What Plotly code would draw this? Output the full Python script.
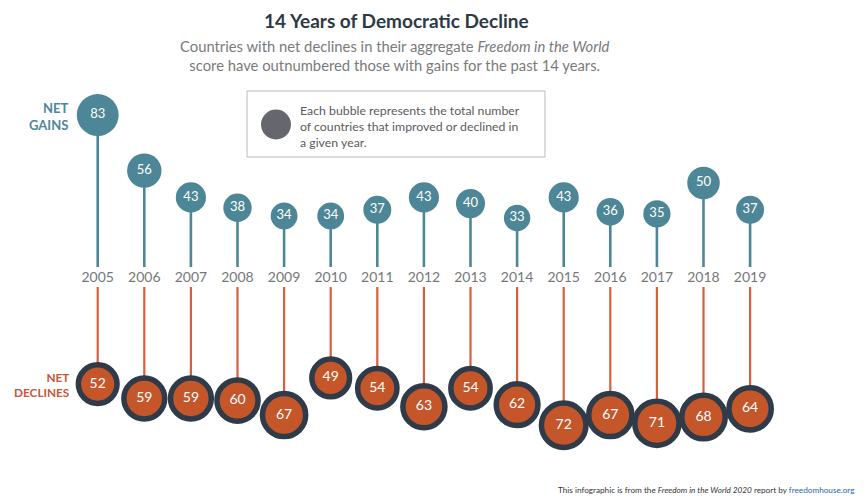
import numpy as np
import plotly.graph_objects as go

years = list(range(2005, 2020))
net_gains = [83, 56, 43, 38, 34, 34, 37, 43, 40, 33, 43, 36, 35, 50, 37]
net_declines = [52, 59, 59, 60, 67, 49, 54, 63, 54, 62, 72, 67, 71, 68, 64]

OFF = 8  # page body margin offset
W, H = 868 - OFF, 496 - OFF
TEAL = "#4d8797"
ORANGE = "#c4562a"
STEM_OR = "#d4603f"
RING = "#2f3b48"
GRAY = "#76777a"
FONT = "Lato"

# helpers: reference-window pixels -> paper coordinates
def px(x):
    return (x - OFF) / W
def py(y):
    return 1 - (y - OFF) / H

K = 2.06  # px per unit
x0_px, dx_px = 97.7 - OFF, 46.6
xr = [2005 - x0_px / dx_px, 2005 + (W - x0_px) / dx_px]
g0 = 286.0 - OFF  # pixel of gains zero (figure coords)
d0 = 277.0 - OFF  # pixel of declines zero
yr1 = [-(H - g0) / K, g0 / K]
yr2 = [-(H - d0) / K, d0 / K]

gain_base = (g0 - (267 - OFF)) / K
decl_base = -((287 - OFF) - d0) / K
label_y = (g0 - (278 - OFF)) / K

fig = go.Figure()

# stems
sx, sy = [], []
for yv, v in zip(years, net_gains):
    sx += [yv, yv, None]
    sy += [gain_base, v, None]
fig.add_trace(go.Scatter(x=sx, y=sy, mode="lines", line=dict(color=TEAL, width=2.6),
                         hoverinfo="skip", showlegend=False, yaxis="y"))
dx, dy = [], []
for yv, v in zip(years, net_declines):
    dx += [yv, yv, None]
    dy += [decl_base, -v, None]
fig.add_trace(go.Scatter(x=dx, y=dy, mode="lines", line=dict(color=STEM_OR, width=2.2),
                         hoverinfo="skip", showlegend=False, yaxis="y2"))

# bubbles
gsize = [4.6 * np.sqrt(v) for v in net_gains]
fig.add_trace(go.Scatter(
    x=years, y=net_gains, mode="markers+text", yaxis="y",
    marker=dict(size=gsize, sizemode="diameter", color=TEAL, line=dict(width=0), opacity=1),
    text=[str(v) for v in net_gains], textposition="middle center",
    textfont=dict(family=FONT, size=13, color="white"), showlegend=False))

ring = 5.5
dsize = [4.6 * np.sqrt(v) + ring for v in net_declines]
fig.add_trace(go.Scatter(
    x=years, y=[-v for v in net_declines], mode="markers+text", yaxis="y2",
    marker=dict(size=dsize, sizemode="diameter", color=ORANGE, line=dict(width=ring, color=RING), opacity=1),
    text=[str(v) for v in net_declines], textposition="middle center",
    textfont=dict(family=FONT, size=14, color="white"), showlegend=False))

# year labels
fig.add_trace(go.Scatter(
    x=years, y=[label_y] * len(years), mode="text", yaxis="y",
    text=[str(y) for y in years], textposition="middle center",
    textfont=dict(family=FONT, size=14, color=GRAY), showlegend=False, hoverinfo="skip"))

ann = []
ann.append(dict(x=px(396), y=py(20), xref="paper", yref="paper", showarrow=False,
                text="<b>14 Years of Democratic Decline</b>",
                font=dict(family=FONT, size=19, color="#2d3945"), xanchor="center", yanchor="middle"))
ann.append(dict(x=px(395), y=py(55), xref="paper", yref="paper", showarrow=False,
                text="Countries with net declines in their aggregate <i>Freedom in the World</i><br>score have outnumbered those with gains for the past 14 years.",
                font=dict(family=FONT, size=14.8, color="#7a7a7c"), xanchor="center", yanchor="middle",
                align="center"))
ann.append(dict(x=px(71), y=py(116.5), xref="paper", yref="paper", showarrow=False,
                text="<b>NET<br>GAINS</b>", align="right",
                font=dict(family=FONT, size=13, color=TEAL), xanchor="right", yanchor="middle"))
ann.append(dict(x=px(72), y=py(384.5), xref="paper", yref="paper", showarrow=False,
                text="<b>NET<br>DECLINES</b>", align="right",
                font=dict(family=FONT, size=11.8, color="#c8553a"), xanchor="right", yanchor="middle"))
ann.append(dict(x=px(298), y=py(126), xref="paper", yref="paper", showarrow=False,
                text="Each bubble represents the total number<br>of countries that improved or declined in<br>a given year.",
                align="left", font=dict(family=FONT, size=12.3, color="#5b5b5e"),
                xanchor="left", yanchor="middle"))
ann.append(dict(x=px(857), y=py(490), xref="paper", yref="paper", showarrow=False,
                text="This infographic is from the <i>Freedom in the World 2020</i> report by <span style='color:#2f5fa8'>freedomhouse.org</span>",
                align="right", font=dict(family=FONT, size=8.2, color="#333333"),
                xanchor="right", yanchor="middle"))

shapes = [
    dict(type="rect", xref="paper", yref="paper", x0=px(247), x1=px(545), y0=py(91), y1=py(157),
         line=dict(color="#b9b9bb", width=1), fillcolor="rgba(0,0,0,0)", layer="below"),
    dict(type="circle", xref="paper", yref="paper", x0=px(261), x1=px(291), y0=py(109.5), y1=py(139.5),
         line=dict(width=0), fillcolor="#66666f"),
]

fig.update_layout(
    width=W, height=H, margin=dict(l=0, r=0, t=0, b=0),
    paper_bgcolor="white", plot_bgcolor="white",
    xaxis=dict(range=xr, visible=False, fixedrange=True),
    yaxis=dict(range=yr1, visible=False, fixedrange=True),
    yaxis2=dict(range=yr2, visible=False, overlaying="y", fixedrange=True),
    annotations=ann, shapes=shapes, showlegend=False,
)

fig.write_html("out.html")
